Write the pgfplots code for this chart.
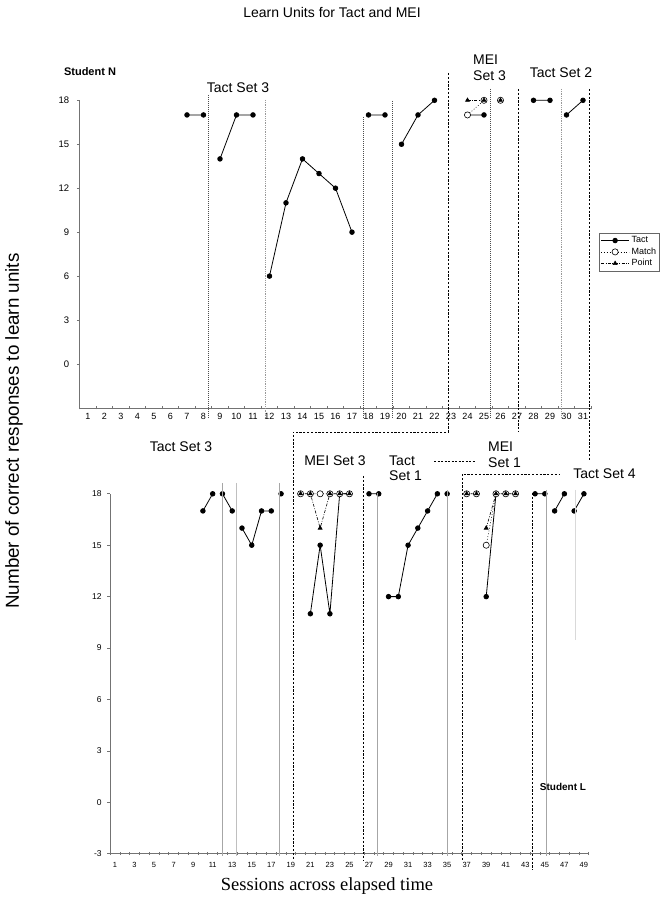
\documentclass[border=0pt]{standalone}
\usepackage{fontspec}
\setmainfont{Liberation Sans}
\newfontfamily\timesfont{Liberation Serif}
\usepackage{pgfplots}
\pgfplotsset{compat=1.18}
\newcommand{\fs}[1]{\fontsize{#1}{#1}\selectfont}
\begin{document}
\begin{tikzpicture}
\useasboundingbox (0,0) rectangle (664pt,898pt);
\pgfplotsset{
 tact/.style={black, line width=0.8pt, solid, mark=*, mark size=2.3pt, mark options={solid, fill=black}},
 match/.style={black, line width=0.6pt, dash pattern=on 0.8pt off 2pt, mark=*, mark size=3.1pt, mark options={solid, fill=white, draw=black, line width=0.6pt}},
 point/.style={black, line width=0.6pt, dash pattern=on 3pt off 1.5pt on 0.8pt off 1.5pt, mark=triangle*, mark size=2.3pt, mark options={solid, fill=black}},
 base/.style={scale only axis, anchor=south west, axis lines=left,
   axis line style={-, black!55, line width=0.7pt}, clip=false,
   unbounded coords=jump, /pgf/number format/assume math mode=true,
   tick style={black!55, line width=0.6pt}, major tick length=3pt,
   xtick align=center, ytick align=outside},
}
% ---------------- Student N ----------------
\begin{axis}[base, at={(79.75pt,490.05pt)}, width=511.5pt, height=307.65pt,
 xmin=0.5, xmax=31.5, ymin=-3, ymax=18,
 ytick={0,3,...,18}, yticklabel style={font=\fs{9.5}, xshift=-4pt},
 xtick={0.5,1.5,...,30.5},
 xticklabel={\pgfmathparse{int(\tick+0.6)}\pgfmathprintnumber{\pgfmathresult}},
 xticklabel style={font=\fs{9}, xshift=8.25pt},
 extra x ticks={31.5}, extra x tick labels={},
 legend style={at={(1.0152,0.5687)}, anchor=north west, font=\fs{9},
   draw=black!60, inner sep=1.5pt, row sep=-0.5pt, fill=white},
 legend image code/.code={\draw[mark repeat=2, mark phase=2, #1] plot coordinates {(0pt,0pt) (14pt,0pt) (28pt,0pt)};},
 legend cell align=left]
\addplot[tact] coordinates {(7,17) (8,17) (8.5,nan) (9,14) (10,17) (11,17) (11.5,nan)
 (12,6) (13,11) (14,14) (15,13) (16,12) (17,9) (17.5,nan) (18,17) (19,17) (19.5,nan)
 (20,15) (21,17) (22,18) (23,nan) (24,17) (25,17) (26,nan) (28,18) (29,18) (29.5,nan) (30,17) (31,18)};
\addlegendentry{Tact}
\addplot[match] coordinates {(24,17) (25,18) (25.5,nan) (26,18)};
\addlegendentry{Match}
\addplot[point] coordinates {(24,18) (25,18) (25.5,nan) (26,18)};
\addlegendentry{Point}
\end{axis}
% ---------------- Student L ----------------
\begin{axis}[base, at={(110.1pt,44.3pt)}, width=478.7pt, height=359.9pt,
 xmin=0.5, xmax=49.5, ymin=-3, ymax=18,
 ytick={-3,0,...,18}, yticklabel style={font=\fs{8.5}, xshift=-2pt},
 xtick={0.5,2.5,...,48.5},
 xticklabel={\pgfmathparse{int(\tick+0.6)}\pgfmathprintnumber{\pgfmathresult}},
 xticklabel style={font=\fs{7.5}, xshift=4.885pt, yshift=-4pt},
 extra x ticks={1.5,3.5,...,49.5}, extra x tick labels={}]
\addplot[tact] coordinates {(10,17) (11,18) (11.5,nan) (12,18) (13,17) (13.5,nan)
 (14,16) (15,15) (16,17) (17,17) (17.5,nan) (18,18) (19,nan)
 (21,11) (22,15) (23,11) (24,18) (25,18) (26,nan) (27,18) (28,18) (28.5,nan)
 (29,12) (30,12) (31,15) (32,16) (33,17) (34,18) (34.5,nan) (35,18) (36,nan)
 (39,12) (40,18) (43,nan) (44,18) (45,18) (45.5,nan) (46,17) (47,18) (47.5,nan) (48,17) (49,18)};
\addplot[match] coordinates {(20,18) (21,18) (22,18) (23,18) (24,18) (25,18) (26,nan)
 (37,18) (38,18) (38.5,nan) (39,15) (40,18) (41,18) (42,18)};
\addplot[point] coordinates {(20,18) (21,18) (22,16) (23,18) (24,18) (25,18) (26,nan)
 (37,18) (38,18) (38.5,nan) (39,16) (40,18) (41,18) (42,18)};
\end{axis}
% ---------------- annotations (pixel coordinates) ----------------
\begin{scope}[x=1pt, y=-1pt, yshift=898pt]
 \tikzset{thindot/.style={black!70, line width=0.5pt, dash pattern=on 1pt off 1pt},
          lightdot/.style={black!40, line width=0.6pt, dash pattern=on 1pt off 0.8pt},
          lightln/.style={black!35, line width=0.6pt},
          thick dash/.style={black, line width=0.9pt, dash pattern=on 2.2pt off 1.6pt}}
 % top phase lines
 \draw[thindot] (208,95) -- (208,418);
 \draw[lightdot] (265,100) -- (265,418);
 \draw[thindot] (363,117) -- (363,418);
 \draw[thindot] (392,101) -- (392,418);
 \draw[thindot] (490.7,89) -- (490.7,418);
 \draw[lightdot] (561,89) -- (561,418);
 \draw[thick dash] (518,89) -- (518,432);
 \draw[thick dash] (589,89) -- (589,460);
 \draw[thick dash] (448,73) -- (448,432) -- (293,432) -- (293,860);
 \draw[thick dash] (462,860) -- (462,474) -- (560,474);
 \draw[black, line width=0.6pt, dash pattern=on 2pt off 1.5pt] (434,461) -- (476,461);
 % bottom phase lines
 \draw[lightln] (222.3,483) -- (222.3,856);
 \draw[lightln, black!25] (236.7,483) -- (236.7,856);
 \draw[lightln] (279,483) -- (279,856);
 \draw[thick dash] (363.3,476) -- (363.3,860);
 \draw[lightln] (377.7,493) -- (377.7,856);
 \draw[lightln] (447.3,490) -- (447.3,856);
 \draw[thick dash] (532.3,493) -- (532.3,870);
 \draw[lightln] (546.7,490) -- (546.7,856);
 \draw[lightln, black!15] (575,490) -- (575,640);
 % texts
 \node[font=\fs{14}] at (332,13) {Learn Units for Tact and MEI};
 \node[font=\fs{11}\bfseries] at (90,72) {Student N};
 \node[font=\fs{14}] at (238,88) {Tact Set 3};
 \node[font=\fs{14}, anchor=west, inner sep=0pt] at (473,60) {MEI};
 \node[font=\fs{14}, anchor=west, inner sep=0pt] at (473,76) {Set 3};
 \node[font=\fs{14}] at (561,73) {Tact Set 2};
 \node[font=\fs{14}] at (181,447) {Tact Set 3};
 \node[font=\fs{14}] at (335,461) {MEI Set 3};
 \node[font=\fs{14}, anchor=west, inner sep=0pt] at (389,461) {Tact};
 \node[font=\fs{14}, anchor=west, inner sep=0pt] at (389,476) {Set 1};
 \node[font=\fs{14}, anchor=west, inner sep=0pt] at (488,447) {MEI};
 \node[font=\fs{14}, anchor=west, inner sep=0pt] at (488,463) {Set 1};
 \node[font=\fs{14}] at (604.5,474) {Tact Set 4};
 \node[font=\fs{10}\bfseries] at (563,787) {Student L};
 \node[font=\fs{18.8}, rotate=90] at (14,431) {Number of correct responses to learn units};
 \node[font=\timesfont\fs{18.5}] at (327,886) {Sessions across elapsed time};
\end{scope}
\end{tikzpicture}
\end{document}
